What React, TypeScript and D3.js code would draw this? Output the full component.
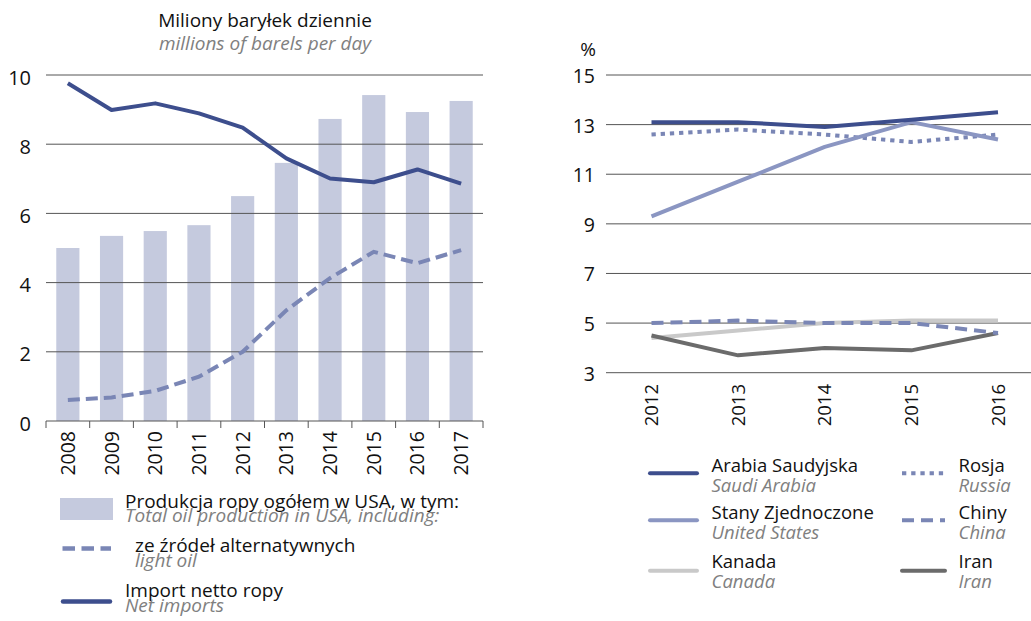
import React from 'react';
import * as d3 from 'd3';

// ---------- Left chart data ----------
const yearsL = ['2008', '2009', '2010', '2011', '2012', '2013', '2014', '2015', '2016', '2017'];
const production = [5.0, 5.35, 5.49, 5.66, 6.5, 7.46, 8.73, 9.42, 8.93, 9.25];
const lightOil = [0.61, 0.68, 0.87, 1.28, 2.0, 3.2, 4.13, 4.89, 4.56, 4.94];
const netImports = [9.76, 8.99, 9.18, 8.89, 8.48, 7.59, 7.01, 6.9, 7.27, 6.86];
const ticksL = [0, 2, 4, 6, 8, 10];

// ---------- Right chart data ----------
const yearsR = ['2012', '2013', '2014', '2015', '2016'];
const saudi = [13.1, 13.1, 12.9, 13.2, 13.5];
const usa = [9.3, 10.7, 12.1, 13.1, 12.4];
const russia = [12.6, 12.8, 12.6, 12.3, 12.6];
const canada = [4.4, 4.7, 5.0, 5.1, 5.1];
const china = [5.0, 5.1, 5.0, 5.0, 4.6];
const iran = [4.5, 3.7, 4.0, 3.9, 4.6];
const ticksR = [3, 5, 7, 9, 11, 13, 15];

const FONT = "'Open Sans', 'Noto Sans', sans-serif";
const C_DARK = '#3d4e8d';
const C_BAR = '#c5cade';
const C_MID = '#7a86b5';
const C_US = '#8b96c2';
const C_CAN = '#c9c9c9';
const C_IRAN = '#6b6b6b';
const C_GRID = '#555555';
const C_TEXT = '#111111';
const C_SUB = '#808080';

const rightSeries = [
  { pl: 'Arabia Saudyjska', en: 'Saudi Arabia', values: saudi, color: C_DARK, dash: null, col: 0, row: 0 },
  { pl: 'Stany Zjednoczone', en: 'United States', values: usa, color: C_US, dash: null, col: 0, row: 1 },
  { pl: 'Kanada', en: 'Canada', values: canada, color: C_CAN, dash: null, col: 0, row: 2 },
  { pl: 'Rosja', en: 'Russia', values: russia, color: C_MID, dash: '4.3,4.9', col: 1, row: 0 },
  { pl: 'Chiny', en: 'China', values: china, color: C_MID, dash: '12,7', col: 1, row: 1 },
  { pl: 'Iran', en: 'Iran', values: iran, color: C_IRAN, dash: null, col: 1, row: 2 },
];

export default function App() {
  // Left scales
  const xBandL = d3.scaleBand<string>().domain(yearsL).range([46, 483]).paddingInner(0.47).paddingOuter(0.235);
  const xEdgeL = d3.scaleBand<string>().domain(yearsL).range([46, 483]).padding(0);
  const yL = d3.scaleLinear().domain([0, 10]).range([421, 75]);
  const cxL = (y: string) => (xBandL(y) as number) + xBandL.bandwidth() / 2;

  const lineL = d3
    .line<number>()
    .x((_, i) => cxL(yearsL[i]))
    .y((d) => yL(d));

  // Right scales
  const xR = d3.scalePoint<string>().domain(yearsR).range([651.5, 998]);
  const yR = d3.scaleLinear().domain([3, 15]).range([372.7, 75]);
  const lineR = d3
    .line<number>()
    .x((_, i) => xR(yearsR[i]) as number)
    .y((d) => yR(d));

  const edges = yearsL.map((y) => xEdgeL(y) as number).concat([483]);

  // Draw order for right lines (back to front)
  const drawOrder = [2, 5, 4, 3, 1, 0];

  return (
    <svg
      width={1031}
      height={621}
      style={{ position: 'absolute', left: 0, top: 0, display: 'block', background: '#fff' }}
      fontFamily={FONT}
    >
      {/* ---------------- LEFT CHART ---------------- */}
      <text x={265} y={27} textAnchor="middle" fontSize={19} fill={C_TEXT}>
        Miliony baryłek dziennie
      </text>
      <text x={265} y={50} textAnchor="middle" fontSize={19} fontStyle="italic" fill={C_SUB}>
        millions of barels per day
      </text>

      {/* bars */}
      {production.map((v, i) => (
        <rect
          key={'b' + i}
          x={xBandL(yearsL[i])}
          y={yL(v)}
          width={xBandL.bandwidth()}
          height={yL(0) - yL(v)}
          fill={C_BAR}
        />
      ))}

      {/* grid */}
      {ticksL.map((t) => (
        <g key={'gl' + t}>
          <line x1={46} x2={483} y1={yL(t)} y2={yL(t)} stroke={C_GRID} strokeWidth={1} />
          <text x={31} y={yL(t)} dy={9.5} textAnchor="end" fontSize={20} fill={C_TEXT}>
            {t}
          </text>
        </g>
      ))}

      {/* axis ticks */}
      {edges.map((e, i) => (
        <line key={'tk' + i} x1={e} x2={e} y1={yL(0)} y2={yL(0) + 7} stroke={C_GRID} strokeWidth={1} />
      ))}

      {/* year labels */}
      {yearsL.map((y) => (
        <text
          key={'yl' + y}
          transform={`translate(${cxL(y)},431) rotate(-90)`}
          textAnchor="end"
          dy="0.36em"
          fontSize={19.5}
          fill={C_TEXT}
        >
          {y}
        </text>
      ))}

      {/* light oil dashed */}
      <path d={lineL(lightOil) || ''} fill="none" stroke={C_MID} strokeWidth={4} strokeDasharray="12,6" />
      {/* net imports */}
      <path d={lineL(netImports) || ''} fill="none" stroke={C_DARK} strokeWidth={4} strokeLinejoin="round" />

      {/* left legend */}
      <rect x={60} y={498} width={53} height={22} fill={C_BAR} />
      <text x={125} y={508} fontSize={19} fill={C_TEXT}>
        Produkcja ropy ogółem w USA, w tym:
      </text>
      <text x={125} y={522} fontSize={19} fontStyle="italic" fill={C_SUB}>
        Total oil production in USA, including:
      </text>
      <line x1={62.5} x2={111} y1={548.5} y2={548.5} stroke={C_MID} strokeWidth={4.5} strokeDasharray="12.5,6.5" />
      <text x={135} y={552} fontSize={19} fill={C_TEXT}>
        ze źródeł alternatywnych
      </text>
      <text x={135} y={567} fontSize={19} fontStyle="italic" fill={C_SUB}>
        light oil
      </text>
      <line x1={63} x2={110} y1={601.5} y2={601.5} stroke={C_DARK} strokeWidth={4.5} strokeLinecap="round" />
      <text x={125} y={597} fontSize={19} fill={C_TEXT}>
        Import netto ropy
      </text>
      <text x={125} y={612} fontSize={19} fontStyle="italic" fill={C_SUB}>
        Net imports
      </text>

      {/* ---------------- RIGHT CHART ---------------- */}
      <text x={596} y={56} textAnchor="end" fontSize={19} fill={C_TEXT}>
        %
      </text>
      {ticksR.map((t) => (
        <g key={'gr' + t}>
          <line x1={606} x2={1031} y1={yR(t)} y2={yR(t)} stroke={C_GRID} strokeWidth={1} />
          <text x={595} y={yR(t)} dy={8} textAnchor="end" fontSize={19.5} fill={C_TEXT}>
            {t}
          </text>
        </g>
      ))}
      {yearsR.map((y) => (
        <text
          key={'yr' + y}
          transform={`translate(${xR(y)},384) rotate(-90)`}
          textAnchor="end"
          dy="0.36em"
          fontSize={18.5}
          fill={C_TEXT}
        >
          {y}
        </text>
      ))}

      {drawOrder.map((idx) => {
        const s = rightSeries[idx];
        return (
          <path
            key={'rl' + idx}
            d={lineR(s.values) || ''}
            fill="none"
            stroke={s.color}
            strokeWidth={4}
            strokeDasharray={s.dash || undefined}
            strokeLinejoin="round"
          />
        );
      })}

      {/* right legend */}
      {rightSeries.map((s, i) => {
        const lx = s.col === 0 ? 650 : 902;
        const lx2 = s.col === 0 ? 697 : 945;
        const tx = s.col === 0 ? 711.5 : 958.5;
        const rowY = [472.3, 519, 567.5][s.row];
        const lineY = [473.3, 520.3, 570.7][s.row];
        return (
          <g key={'lg' + i}>
            <line
              x1={lx}
              x2={lx2}
              y1={lineY}
              y2={lineY}
              stroke={s.color}
              strokeWidth={4}
              strokeDasharray={s.dash || undefined}
              strokeLinecap={s.dash ? 'butt' : 'round'}
            />
            <text x={tx} y={rowY} fontSize={18.5} fill={C_TEXT}>
              {s.pl}
            </text>
            <text x={tx} y={rowY + 20} fontSize={18.5} fontStyle="italic" fill={C_SUB}>
              {s.en}
            </text>
          </g>
        );
      })}
    </svg>
  );
}
